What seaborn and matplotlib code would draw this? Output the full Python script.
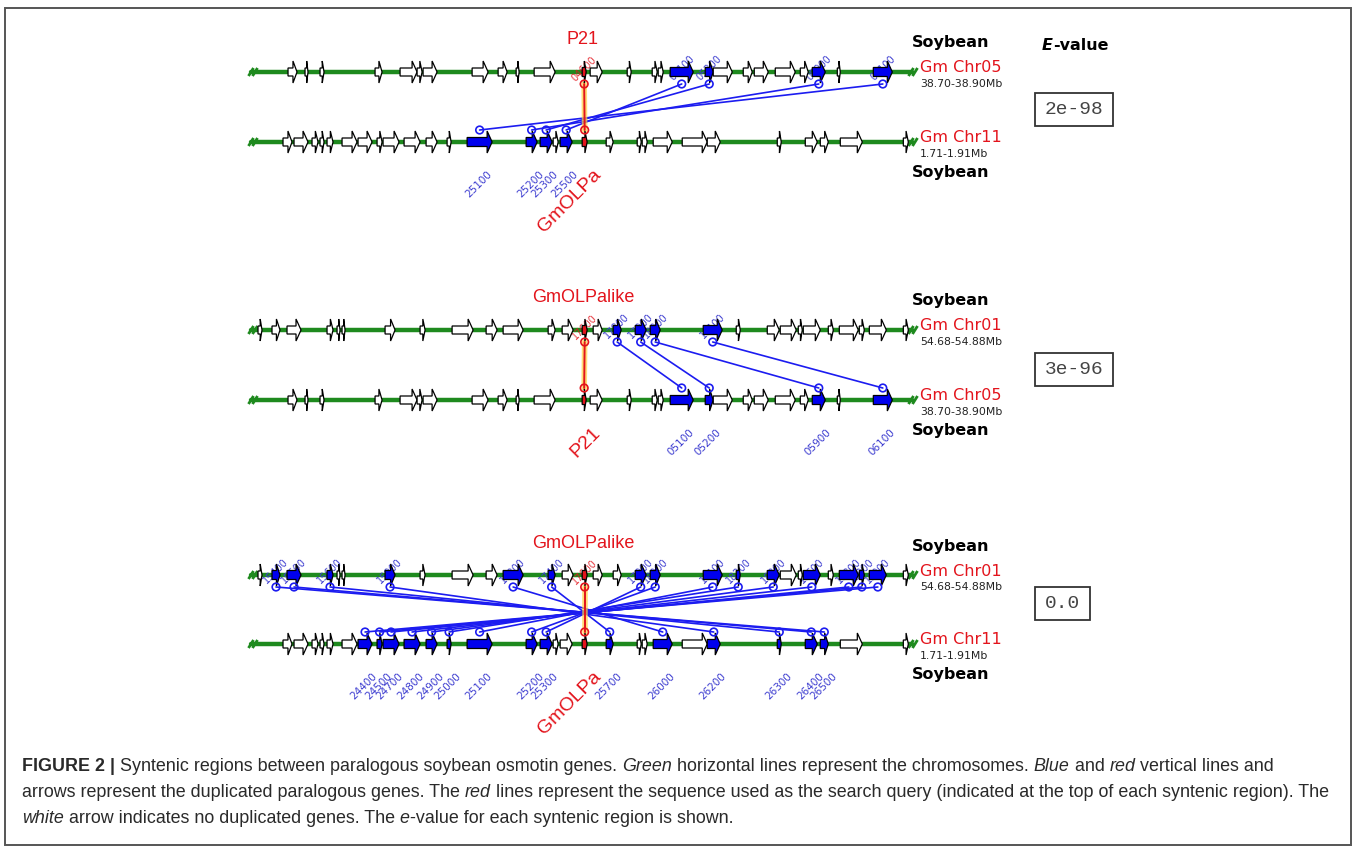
import matplotlib
matplotlib.use("Agg")
import matplotlib.pyplot as plt
from matplotlib.patches import Polygon, Rectangle
from matplotlib import font_manager
import seaborn as sns
import pandas as pd

# ---------------- data: gene positions in kb within each 200-kb window ----------------
chr05_start = [12.0, 17.1, 21.6, 38.1, 45.6, 50.7, 52.5, 67.2, 75.0, 80.4, 85.8, 100.2, 102.6,
               113.7, 121.2, 123.0, 126.6, 137.1, 139.5, 148.5, 151.8, 158.1, 165.6, 169.2, 176.7, 187.5]
chr05_end = [14.7, 18.0, 22.8, 40.2, 50.7, 52.2, 56.7, 72.0, 77.7, 81.3, 92.1, 101.4, 106.2,
             114.9, 122.7, 124.5, 133.5, 139.5, 145.2, 151.2, 156.0, 164.1, 168.0, 173.1, 177.6, 193.2]
chr05_ids = ['', '', '', '', '', '', '', '', '', '', '', '04600', '',
             '', '', '', '05100', '05200', '', '', '', '', '', '05900', '', '06100']

chr11_start = [10.5, 13.8, 19.2, 21.6, 23.7, 28.2, 33.0, 38.7, 40.5, 46.8, 53.4, 59.7, 65.7, 83.4, 87.6,
               91.5, 93.6, 100.2, 107.4, 116.7, 118.2, 121.5, 130.2, 137.7, 158.7, 167.1, 171.6, 177.6, 196.5]
chr11_end = [13.2, 18.0, 21.0, 22.8, 25.5, 32.7, 37.2, 40.2, 45.3, 51.6, 56.7, 60.9, 73.2, 86.7, 91.2,
             93.0, 97.2, 101.7, 109.5, 117.9, 119.7, 127.2, 137.7, 141.6, 159.9, 170.7, 174.0, 184.2, 198.0]
chr11_ids = ['', '', '', '', '', '', '24400', '24500', '24700', '24800', '24900', '25000', '25100', '25200', '25300',
             '', '25500', '25600', '25700', '', '', '26000', '', '26200', '26300', '26400', '26500', '', '']

chr01_start = [3.0, 7.2, 11.7, 23.7, 26.7, 28.2, 41.1, 51.6, 61.2, 71.4, 76.5, 90.0, 94.2, 100.2, 103.5,
               109.5, 116.1, 120.6, 136.5, 146.4, 155.7, 159.6, 165.0, 166.5, 174.0, 177.3, 183.3, 186.3, 196.5]
chr01_end = [4.2, 9.6, 15.9, 25.5, 27.6, 29.1, 44.1, 53.1, 67.5, 74.7, 82.5, 92.1, 97.5, 101.7, 106.2,
             111.9, 119.4, 123.6, 142.2, 147.6, 159.3, 164.4, 166.2, 171.6, 175.5, 183.0, 184.8, 191.4, 198.0]
chr01_ids = ['', '15400', '15500', '15600', '', '', '15900', '', '', '', '17300', '17400', '', '17600', '',
             '17800', '17900', '18000', '18100', '18200', '18300', '', '', '18600', '', '18800', '18900', '19000', '']

chrom_names = ['Gm Chr05', 'Gm Chr11', 'Gm Chr01']
chrom_ranges = ['38.70-38.90Mb', '1.71-1.91Mb', '54.68-54.88Mb']

panel_top_chr = ['Gm Chr05', 'Gm Chr01', 'Gm Chr01']
panel_bot_chr = ['Gm Chr11', 'Gm Chr05', 'Gm Chr11']
panel_top_query = ['04600', '17600', '17600']
panel_bot_query = ['25600', '04600', '25600']
panel_top_name = ['P21', 'GmOLPalike', 'GmOLPalike']
panel_bot_name = ['GmOLPa', 'P21', 'GmOLPa']
evalues = ['2e-98', '3e-96', '0.0']

p1_top = ['05100', '05200', '05900', '06100']
p1_bot = ['25500', '25300', '25200', '25100']
p2_top = ['17800', '17900', '18000', '18100']
p2_bot = ['05100', '05200', '05900', '06100']
p3_top = ['15400', '15500', '15600', '15900', '17300', '17400', '17900', '18000',
          '18100', '18200', '18300', '18600', '18800', '18900', '19000']
p3_bot = ['26500', '26400', '26300', '26200', '26000', '25700', '25300', '25200',
          '25100', '25000', '24900', '24800', '24700', '24500', '24400']
panel_links = [(p1_top, p1_bot), (p2_top, p2_bot), (p3_top, p3_bot)]

# ---------------- styling / layout ----------------
W, H = 1357, 851
GREEN = '#1e8a1e'
BLUE = '#0000ee'
LINK = '#1c1cf0'
LBLUE = '#3c3cd0'
RED = '#e3141c'
TOP_Y = [72, 330, 575]
BOT_Y = [142, 400, 644]
EBOX = [(109, 78), (369, 78), (603, 55)]
X0, X1, SPAN = 248.0, 915.0, 200.0

sns.set_theme(style='white')
plt.rcParams['font.family'] = ['DejaVu Sans']

chroms = {
    'Gm Chr05': (chr05_start, chr05_end, chr05_ids),
    'Gm Chr11': (chr11_start, chr11_end, chr11_ids),
    'Gm Chr01': (chr01_start, chr01_end, chr01_ids),
}
ranges = dict(zip(chrom_names, chrom_ranges))


def sx(kb):
    return X0 + kb * (X1 - X0) / SPAN


fig = plt.figure(figsize=(W / 100, H / 100), dpi=100)
ax = fig.add_axes([0, 0, 1, 1])


def gene_poly(x0, x1, y, bh, hh=11.0):
    L = x1 - x0
    hl = min(5.0, 0.45 * L)
    xb = x1 - hl
    return [(x0, y - bh), (xb, y - bh), (xb, y - hh), (x1, y), (xb, y + hh), (xb, y + bh), (x0, y + bh)]


def centers(name):
    s, e, ids = chroms[name]
    return {g: sx((a + b) / 2) for a, b, g in zip(s, e, ids) if g}


track_rows, circ_rows, link_rows, red_rows = [], [], [], []
uid = 0
for p in range(3):
    yt, yb = TOP_Y[p], BOT_Y[p]
    tops, bots = panel_links[p]
    for y, name, linked, query, side in [(yt, panel_top_chr[p], tops, panel_top_query[p], 'top'),
                                          (yb, panel_bot_chr[p], bots, panel_bot_query[p], 'bot')]:
        track_rows += [dict(x=sx(1.0), y=y, t=f'{p}{side}'), dict(x=sx(199.0), y=y, t=f'{p}{side}')]
        s, e, ids = chroms[name]
        for a, b, g in zip(s, e, ids):
            if g == query:
                fc, bh = RED, 4.5
            elif g and g in linked:
                fc, bh = BLUE, 4.5
            else:
                fc, bh = 'white', 4.0
            ax.add_patch(Polygon(gene_poly(sx(a), sx(b), y, bh), closed=True, facecolor=fc,
                                 edgecolor='black', lw=0.9, zorder=3))
        cen = centers(name)
        for g in linked:
            if side == 'top':
                ax.text(cen[g], y - 4, g, rotation=45, ha='center', va='center', fontsize=7,
                        color=LBLUE, zorder=2.5)
            else:
                ax.text(cen[g] - 1, y + 42, g, rotation=45, ha='center', va='center', fontsize=7.5,
                        color=LBLUE, zorder=2.5)
        if side == 'top':
            ax.text(cen[query], y - 3, query, rotation=45, ha='center', va='center', fontsize=7,
                    color=RED, alpha=0.85, zorder=2.5)
        # break marks
        for bx in (251, 255, 911, 915):
            ax.plot([bx - 2.5, bx + 2.5], [y + 4, y - 4], color=GREEN, lw=2, zorder=2,
                    solid_capstyle='butt')
    ct, cb = centers(panel_top_chr[p]), centers(panel_bot_chr[p])
    for gt, gb in zip(tops, bots):
        link_rows += [dict(x=ct[gt], y=yt + 12, u=uid), dict(x=cb[gb], y=yb - 12, u=uid)]
        circ_rows += [dict(x=ct[gt], y=yt + 12, k='b'), dict(x=cb[gb], y=yb - 12, k='b')]
        uid += 1
    qt, qb = ct[panel_top_query[p]], cb[panel_bot_query[p]]
    red_rows += [dict(x=qt, y=yt + 12, u=p), dict(x=qb, y=yb - 12, u=p)]

track_df = pd.DataFrame(track_rows)
link_df = pd.DataFrame(link_rows)
red_df = pd.DataFrame(red_rows)
circ_df = pd.DataFrame(circ_rows)

sns.lineplot(data=track_df, x='x', y='y', units='t', estimator=None, sort=False,
             color=GREEN, lw=3.2, ax=ax, zorder=1)
sns.lineplot(data=link_df, x='x', y='y', units='u', estimator=None, sort=False,
             color=LINK, lw=1.2, ax=ax, zorder=2)
sns.lineplot(data=red_df, x='x', y='y', units='u', estimator=None, sort=False,
             color='#ffcf40', lw=4, alpha=0.7, ax=ax, zorder=2.6)
sns.lineplot(data=red_df, x='x', y='y', units='u', estimator=None, sort=False,
             color=RED, lw=1.4, ax=ax, zorder=2.7)
sns.scatterplot(data=circ_df, x='x', y='y', s=30, color=LINK, ax=ax, zorder=4, legend=False)
coll = ax.collections[-1]
coll.set_facecolor('none'); coll.set_edgecolor(LINK); coll.set_linewidth(1.2)
sns.scatterplot(data=red_df, x='x', y='y', s=30, color=RED, ax=ax, zorder=4, legend=False)
coll = ax.collections[-1]
coll.set_facecolor('none'); coll.set_edgecolor(RED); coll.set_linewidth(1.2)

# ---------------- text labels ----------------
for p in range(3):
    yt, yb = TOP_Y[p], BOT_Y[p]
    ax.text(583, yt - 32, panel_top_name[p], ha='center', va='center', fontsize=13,
            family='Liberation Sans', color=RED)
    ax.text(598, yb + 30, panel_bot_name[p], ha='right', va='center', rotation=45,
            rotation_mode='anchor', fontsize=14, family='Liberation Sans', color=RED)
    ax.text(912, yt - 29, 'Soybean', ha='left', va='center', fontsize=11.5, fontweight='bold', color='black')
    ax.text(912, yb + 30, 'Soybean', ha='left', va='center', fontsize=11.5, fontweight='bold', color='black')
    for y, name in [(yt, panel_top_chr[p]), (yb, panel_bot_chr[p])]:
        ax.text(920, y - 4, name, ha='left', va='center', fontsize=11.5, color=RED)
        ax.text(920, y + 12, ranges[name], ha='left', va='center', fontsize=7.8, color='#222222')
    cy, bw = EBOX[p]
    ax.add_patch(Rectangle((1035, cy - 16.5), bw, 33, fill=False, ec='#333333', lw=1.3, zorder=3))
    ax.text(1035 + bw / 2, cy, evalues[p], ha='center', va='center', fontsize=14,
            family='Liberation Mono', color='#444444')

renderer = fig.canvas.get_renderer()


def run_width(s, **kw):
    t = ax.text(0, 0, '|' + s + '|', **kw)
    w = t.get_window_extent(renderer).width
    t.remove()
    t2 = ax.text(0, 0, '||', **kw)
    w2 = t2.get_window_extent(renderer).width
    t2.remove()
    return w - w2


def draw_runs(x, y, runs, base):
    for s, style in runs:
        kw = dict(base)
        if 'b' in style:
            kw['fontweight'] = 'bold'
        if 'i' in style:
            kw['fontstyle'] = 'italic'
        ax.text(x, y, s, ha='left', va='baseline', **kw)
        x += run_width(s, **kw)


draw_runs(1042, 50, [('E', 'bi'), ('-value', 'b')], dict(fontsize=11.5, color='black'))

names = {f.name for f in font_manager.fontManager.ttflist}
cap_family = 'Liberation Sans Narrow' if 'Liberation Sans Narrow' in names else 'Liberation Sans'
cap1 = [('FIGURE 2 | ', 'b'), ('Syntenic regions between paralogous soybean osmotin genes. ', ''),
        ('Green', 'i'), (' horizontal lines represent the chromosomes. ', ''), ('Blue', 'i'),
        (' and ', ''), ('red', 'i'), (' vertical lines and', '')]
cap2 = [('arrows represent the duplicated paralogous genes. The ', ''), ('red', 'i'),
        (' lines represent the sequence used as the search query (indicated at the top of each syntenic region). The', '')]
cap3 = [('white', 'i'), (' arrow indicates no duplicated genes. The ', ''), ('e', 'i'),
        ('-value for each syntenic region is shown.', '')]
w10 = sum(run_width(s, fontsize=10, family=cap_family, fontstyle='italic' if 'i' in st else 'normal')
          for s, st in cap2)
cap_size = 10 * 1313 / w10
base = dict(fontsize=cap_size, family=cap_family, color='#2a2a2a')
for yy, runs in [(771, cap1), (797, cap2), (823, cap3)]:
    draw_runs(22, yy, runs, base)

ax.add_patch(Rectangle((5, 8), 1346, 837, fill=False, ec='#555555', lw=1.4, zorder=5))

ax.set_xlim(0, W)
ax.set_ylim(H, 0)
ax.axis('off')
fig.savefig('out.png', dpi=100)
